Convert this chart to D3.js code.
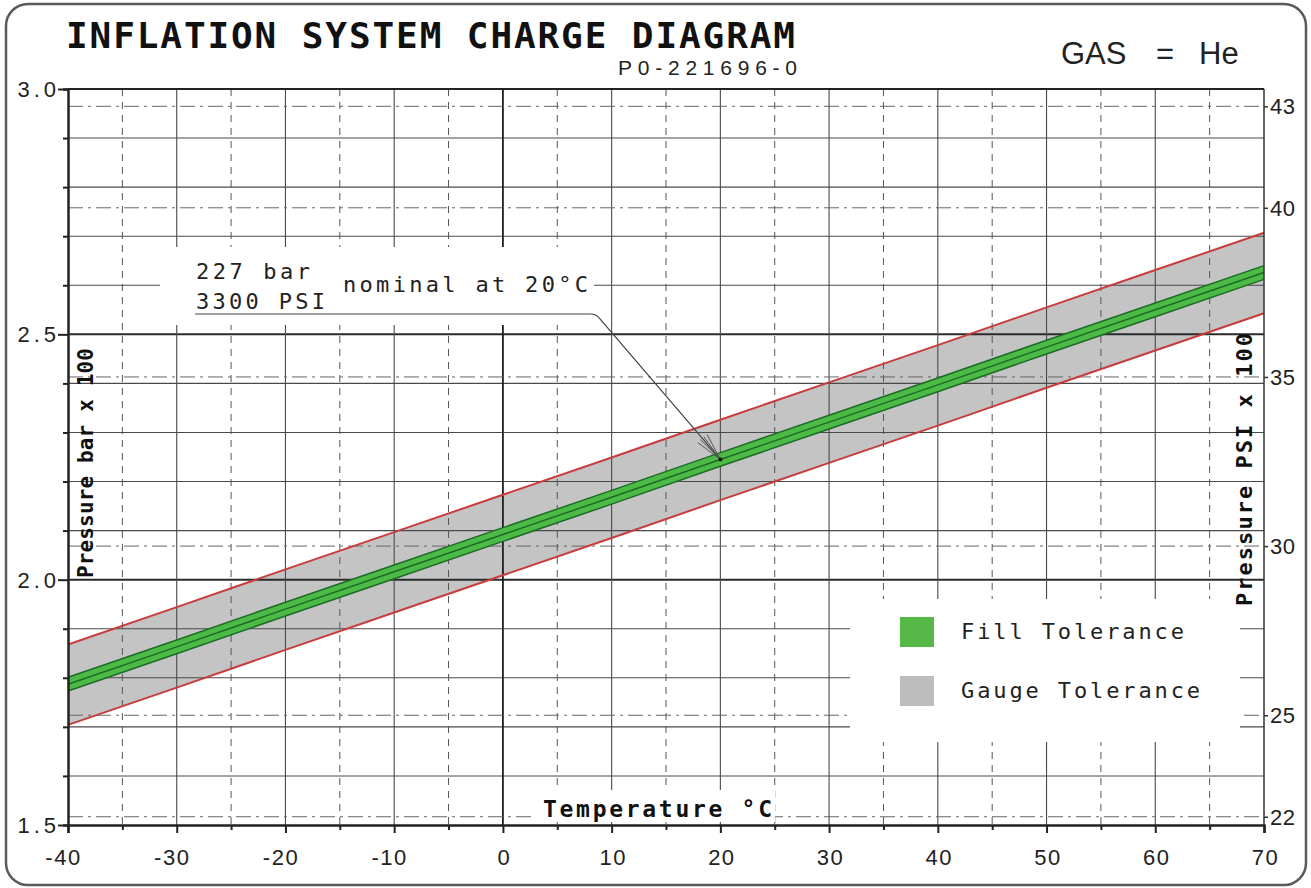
<!DOCTYPE html>
<html><head><meta charset="utf-8">
<script src="https://cdn.jsdelivr.net/npm/d3@7"></script>
<style>body{margin:0;background:#fff}</style>
</head><body><svg id="c" width="1311" height="888"></svg>
<script>
// ---- data (pressure in bar x 100, temperature in °C) ----
const temps      = [-40, -30, -20, -10, 0, 10, 20, 30, 40, 50, 60, 70];
const nominal    = [1.787, 1.863, 1.940, 2.016, 2.092, 2.168, 2.245, 2.321, 2.397, 2.474, 2.550, 2.626];
const gaugeUpper = [1.868, 1.944, 2.021, 2.097, 2.173, 2.249, 2.326, 2.402, 2.478, 2.555, 2.631, 2.707];
const gaugeLower = [1.704, 1.780, 1.857, 1.933, 2.009, 2.085, 2.162, 2.238, 2.314, 2.391, 2.467, 2.543];
const fillUpper  = [1.801, 1.877, 1.954, 2.030, 2.106, 2.182, 2.259, 2.335, 2.411, 2.488, 2.564, 2.640];
const fillLower  = [1.773, 1.849, 1.926, 2.002, 2.078, 2.154, 2.231, 2.307, 2.383, 2.460, 2.536, 2.612];

const tempTicks     = [-40, -35, -30, -25, -20, -15, -10, -5, 0, 5, 10, 15, 20, 25, 30, 35, 40, 45, 50, 55, 60, 65, 70];
const tempLabels    = [-40, -30, -20, -10, 0, 10, 20, 30, 40, 50, 60, 70];
const barTicks      = [1.5, 1.6, 1.7, 1.8, 1.9, 2.0, 2.1, 2.2, 2.3, 2.4, 2.5, 2.6, 2.7, 2.8, 2.9, 3.0];
const barLabels     = [1.5, 2.0, 2.5, 3.0];
const psiTicks      = [22, 25, 30, 35, 40, 43];
const BAR_TO_PSI    = 14.5038;

const title    = "INFLATION SYSTEM CHARGE DIAGRAM";
const docNo    = "P0-221696-0";
const legendLabels = ["Fill Tolerance", "Gauge Tolerance"];
const noteLines = ["227 bar", "3300 PSI"];
const noteText  = "nominal at 20°C";
const noteTemp  = 20;

const rows = temps.map((t, i) => ({t, nom: nominal[i], gu: gaugeUpper[i], gl: gaugeLower[i], fu: fillUpper[i], fl: fillLower[i]}));

// ---- layout ----
const svg = d3.select('#c');
const x = d3.scaleLinear().domain([-40, 70]).range([68, 1264]);
const y = d3.scaleLinear().domain([1.5, 3.0]).range([825, 89]);
const yPsi = d3.scaleLinear().domain(y.domain().map(v => v * BAR_TO_PSI)).range(y.range());
const X0 = x.range()[0], X1 = x.range()[1], Y0 = y.range()[0], Y1 = y.range()[1];

svg.append('rect').attr('width', 1311).attr('height', 888).attr('fill', '#fff');
svg.append('rect').attr('x', 6).attr('y', 4).attr('width', 1300).attr('height', 881)
  .attr('rx', 22).attr('fill', 'none').attr('stroke', '#5a5a5a').attr('stroke-width', 2.5);

// gauge tolerance band
svg.append('path').datum(rows)
  .attr('d', d3.area().x(d => x(d.t)).y0(d => y(d.gl)).y1(d => y(d.gu)))
  .attr('fill', '#c4c4c4');

// grid
const g = svg.append('g');
g.selectAll('.hb').data(barTicks.filter(v => v > 1.5 && v < 3.0)).join('line')
  .attr('x1', X0).attr('x2', X1).attr('y1', d => y(d)).attr('y2', d => y(d))
  .attr('stroke', d => (Math.round(d * 10) % 5 === 0) ? '#2a2a2a' : '#4a4a4a')
  .attr('stroke-width', d => (Math.round(d * 10) % 5 === 0) ? 2 : 1.1);
g.selectAll('.vs').data(tempLabels.filter(v => v > -40 && v < 70)).join('line')
  .attr('x1', d => x(d)).attr('x2', d => x(d)).attr('y1', Y1).attr('y2', Y0)
  .attr('stroke', d => d === 0 ? '#1e1e1e' : '#4a4a4a')
  .attr('stroke-width', d => d === 0 ? 1.8 : 1.1);
g.selectAll('.vd').data(tempTicks.filter(v => v % 10 !== 0)).join('line')
  .attr('x1', d => x(d)).attr('x2', d => x(d)).attr('y1', Y1).attr('y2', Y0)
  .attr('stroke', '#555').attr('stroke-width', 1).attr('stroke-dasharray', '7,6');
g.selectAll('.hp').data(psiTicks).join('line')
  .attr('x1', X0).attr('x2', X1).attr('y1', d => yPsi(d)).attr('y2', d => yPsi(d))
  .attr('stroke', '#666').attr('stroke-width', 1).attr('stroke-dasharray', '15,5,3,5');

// fill tolerance band
svg.append('path').datum(rows)
  .attr('d', d3.area().x(d => x(d.t)).y0(d => y(d.fl)).y1(d => y(d.fu)))
  .attr('fill', '#4cbb46');
['fu', 'nom', 'fl'].forEach(k => {
  svg.append('path').datum(rows)
    .attr('d', d3.line().x(d => x(d.t)).y(d => y(d[k])))
    .attr('fill', 'none').attr('stroke', '#1d6b27').attr('stroke-width', 1.5);
});
['gu', 'gl'].forEach(k => {
  svg.append('path').datum(rows)
    .attr('d', d3.line().x(d => x(d.t)).y(d => y(d[k])))
    .attr('fill', 'none').attr('stroke', '#c83c3c').attr('stroke-width', 2);
});

// white masks
svg.append('rect').attr('x', 160).attr('y', 247).attr('width', 434).attr('height', 78).attr('fill', '#fff');
svg.append('rect').attr('x', 850).attr('y', 599).attr('width', 390).attr('height', 143).attr('fill', '#fff');
svg.append('rect').attr('x', 535).attr('y', 790).attr('width', 240).attr('height', 32).attr('fill', '#fff');

// frame
svg.append('line').attr('x1', X0).attr('x2', X1).attr('y1', Y1).attr('y2', Y1).attr('stroke', '#222').attr('stroke-width', 2);
svg.append('line').attr('x1', X1).attr('x2', X1).attr('y1', Y1).attr('y2', Y0).attr('stroke', '#333').attr('stroke-width', 1.5);

// axes
const fontSans = "'Liberation Sans', Arial, sans-serif";
const fontMono = "'DejaVu Sans Mono', monospace";

const ax = svg.append('g').attr('transform', `translate(0,${Y0})`)
  .call(d3.axisBottom(x).tickValues(tempTicks).tickSize(8).tickPadding(12)
    .tickFormat(d => tempLabels.includes(d) ? d3.format('d')(d).replace('−', '-') : ''));
ax.select('.domain').attr('stroke', '#222').attr('stroke-width', 2.5);
ax.selectAll('.tick line').attr('stroke', '#222').attr('stroke-width', 2)
  .attr('y2', d => d % 10 === 0 ? 8 : 5);
ax.selectAll('.tick text').attr('font-family', fontSans).attr('font-size', 22)
  .attr('fill', '#222').attr('letter-spacing', 1.5)
  .attr('dx', d => d < 0 ? -5 : 1).attr('dy', '0.92em');

const ay = svg.append('g').attr('transform', `translate(${X0},0)`)
  .call(d3.axisLeft(y).tickValues(barTicks).tickSize(5).tickPadding(10)
    .tickFormat(d => barLabels.includes(d) ? d3.format('.1f')(d) : ''));
ay.select('.domain').attr('stroke', '#222').attr('stroke-width', 2.5);
ay.selectAll('.tick line').attr('stroke', '#222').attr('stroke-width', 2)
  .attr('x2', d => barLabels.includes(d) ? -10 : -5);
ay.selectAll('.tick text').attr('font-family', fontSans).attr('font-size', 22)
  .attr('fill', '#222').attr('letter-spacing', 4).attr('x', -8).attr('dy', '0.34em');

const ar = svg.append('g').attr('transform', `translate(${X1},0)`)
  .call(d3.axisRight(yPsi).tickValues(psiTicks).tickSize(4).tickPadding(2).tickFormat(d3.format('d')));
ar.select('.domain').remove();
ar.selectAll('.tick line').attr('stroke', '#333').attr('stroke-width', 1.5);
ar.selectAll('.tick text').attr('font-family', fontSans).attr('font-size', 22)
  .attr('fill', '#222').attr('letter-spacing', 0.5).attr('dy', '0.34em');

// titles
svg.append('text').attr('x', 66).attr('y', 48).text(title)
  .attr('font-family', fontMono).attr('font-weight', 'bold').attr('font-size', 36)
  .attr('fill', '#111').attr('textLength', 729).attr('lengthAdjust', 'spacing');
svg.append('text').attr('x', 618).attr('y', 75).text(docNo)
  .attr('font-family', fontSans).attr('font-size', 21).attr('fill', '#222')
  .attr('textLength', 179).attr('lengthAdjust', 'spacing');
const gas = svg.append('text').attr('y', 64).attr('font-family', fontSans).attr('font-size', 31).attr('fill', '#222');
gas.append('tspan').attr('x', 1061).text('GAS');
gas.append('tspan').attr('x', 1156).text('=');
gas.append('tspan').attr('x', 1199).text('He');

// axis titles
svg.append('text').attr('transform', 'translate(93,578) rotate(-90)').text('Pressure bar x 100')
  .attr('font-family', fontMono).attr('font-weight', 'bold').attr('font-size', 21).attr('fill', '#111')
  .attr('textLength', 230).attr('lengthAdjust', 'spacing');
svg.append('text').attr('transform', 'translate(1252,606) rotate(-90)').text('Pressure PSI x 100')
  .attr('font-family', fontMono).attr('font-weight', 'bold').attr('font-size', 22).attr('fill', '#111')
  .attr('textLength', 273).attr('lengthAdjust', 'spacing');
svg.append('text').attr('x', 543).attr('y', 817).text('Temperature °C')
  .attr('font-family', fontMono).attr('font-weight', 'bold').attr('font-size', 23).attr('fill', '#111')
  .attr('textLength', 229).attr('lengthAdjust', 'spacing');

// legend
const legColors = ['#55b847', '#bdbdbd'];
const legY = [617, 676];
const legLen = [223, 239];
legendLabels.forEach((l, i) => {
  svg.append('rect').attr('x', 900).attr('y', legY[i]).attr('width', 34).attr('height', 30).attr('fill', legColors[i]);
  svg.append('text').attr('x', 961).attr('y', legY[i] + 22).text(l)
    .attr('font-family', fontMono).attr('font-size', 22).attr('fill', '#222')
    .attr('textLength', legLen[i]).attr('lengthAdjust', 'spacing');
});

// annotation
svg.append('text').attr('x', 196).attr('y', 279).text(noteLines[0])
  .attr('font-family', fontMono).attr('font-size', 22).attr('fill', '#222')
  .attr('textLength', 114).attr('lengthAdjust', 'spacing');
svg.append('text').attr('x', 196).attr('y', 309).text(noteLines[1])
  .attr('font-family', fontMono).attr('font-size', 22).attr('fill', '#222')
  .attr('textLength', 129).attr('lengthAdjust', 'spacing');
svg.append('text').attr('x', 343).attr('y', 292).text(noteText)
  .attr('font-family', fontMono).attr('font-size', 22).attr('fill', '#222')
  .attr('textLength', 245).attr('lengthAdjust', 'spacing');
const tipX = x(noteTemp), tipY = y(nominal[temps.indexOf(noteTemp)]);
svg.append('path')
  .attr('d', `M195,314 H590 Q597,314 600,319 L${tipX},${tipY}`)
  .attr('fill', 'none').attr('stroke', '#444').attr('stroke-width', 1.2);
const ang = Math.atan2(tipY - 319, tipX - 600);
[-0.22, -0.08, 0.08, 0.22].forEach(da => {
  const a = ang + Math.PI + da;
  svg.append('line').attr('x1', tipX).attr('y1', tipY)
    .attr('x2', tipX + 28 * Math.cos(a)).attr('y2', tipY + 28 * Math.sin(a))
    .attr('stroke', '#555').attr('stroke-width', 1);
});
svg.append('circle').attr('cx', tipX).attr('cy', tipY).attr('r', 2).attr('fill', '#111');
</script></body></html>
